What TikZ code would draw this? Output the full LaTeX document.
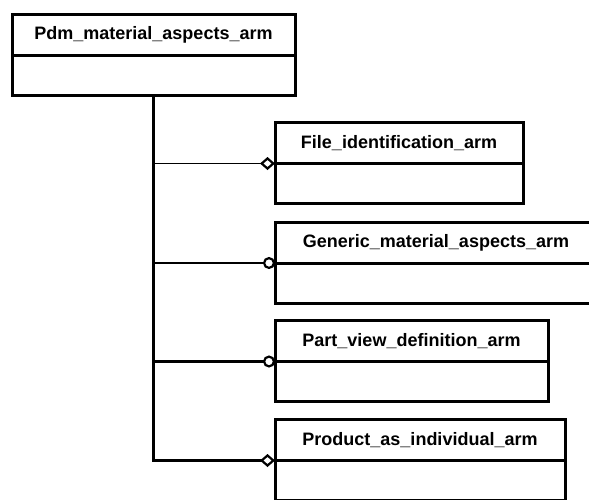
\documentclass[tikz,border=0pt]{standalone}
\usepackage{fontspec}
\setmainfont{Liberation Sans}
\usetikzlibrary{positioning,arrows.meta}
\begin{document}
\begin{tikzpicture}[
        x=1pt, y=-1pt,
        head/.style={draw, line width=3pt, outer sep=0pt, minimum height=41pt, inner sep=0pt, text centered,
            font=\bfseries\fontsize{18}{20}\selectfont},
        body/.style={draw, line width=3pt, outer sep=0pt, minimum height=40pt, inner sep=0pt},
        conn/.style={draw, line width=2.5pt},
        agg/.style={conn, -{Diamond[open, length=15pt, width=13pt, line width=2.2pt]}},
        ref/.style={conn, -{Circle[open, length=12pt, line width=2.2pt]}},
    ]
    \useasboundingbox (0,0) rectangle (589,499);
    \clip (0,0) rectangle (589,499);
    \node[head, minimum width=283pt](pdm) at (153.5,34.5){Pdm\_material\_aspects\_arm};
    \node[body, minimum width=283pt, below=0pt of pdm](pdm-b){};
    \node[head, minimum width=248pt](file) at (399,143){File\_identification\_arm};
    \node[body, minimum width=248pt, below=0pt of file](file-b){};
    \node[head, minimum width=322pt](gen) at (436,242.5){Generic\_material\_aspects\_arm};
    \node[body, minimum width=322pt, below=0pt of gen](gen-b){};
    \node[head, minimum width=273pt](part) at (411.5,341){Part\_view\_definition\_arm};
    \node[body, minimum width=273pt, below=0pt of part](part-b){};
    \node[head, minimum width=290pt](prod) at (420,440){Product\_as\_individual\_arm};
    \node[body, minimum width=290pt, below=0pt of prod](prod-b){};
    % trunk and branches
    \draw[agg] (pdm-b.south) |- (prod.south west);
    \draw[agg, line width=1.5pt] (pdm-b.south |- file.south west) -- (file.south west);
    \draw[ref] (pdm-b.south |- gen.south west) -- (gen.south west);
    \draw[ref] (pdm-b.south |- part.south west) -- (part.south west);
\end{tikzpicture}
\end{document}
